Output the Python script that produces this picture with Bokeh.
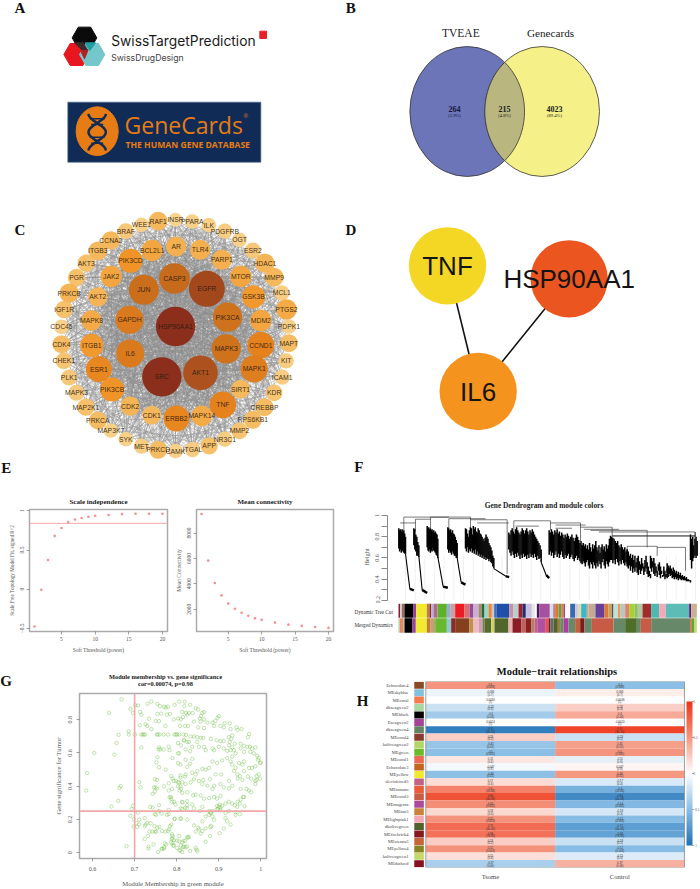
import numpy as np
from bokeh.plotting import figure
from bokeh.layouts import column, row
from bokeh.embed import file_html
from bokeh.resources import INLINE
from bokeh.core.properties import value
from bokeh.transform import dodge
from bokeh.models import (FixedTicker, LinearColorMapper, ColorBar, FactorRange,
                          ColumnDataSource, Range1d)

SERIF = "Liberation Serif"
SANS = "Liberation Sans"

# ---------------- B: Venn ----------------
venn_names = ["TVEAE", "Genecards"]
venn_counts = ["264", "215", "4023"]
venn_pcts = ["(5.9%)", "(4.8%)", "(89.4%)"]

# ---------------- C: PPI network ----------------
net_labels = ["HSP90AA1","SRC","AKT1","EGFR","CASP3","JUN","PIK3CA","MAPK3","GAPDH","IL6",
 "MAPK1","CCND1","TNF","ERBB2","ESR1","PIK3CB","PIK3CD","ITGB1","GSK3B","MTOR","MDM2","MAPK8","JAK2","AKT2",
 "BCL2L1","AR","TLR4","PARP1","SIRT1","MAPK14","CDK1","CDK2",
 "RAF1","INSR","PPARA","ILK","PDGFRB","OGT","ESR2","HDAC1","MMP9","MCL1","PTGS2","PDPK1","MAPT","KIT","ICAM1","KDR",
 "CREBBP","RPS6KB1","MMP2","NR3C1","APP","ITGAL","CAMK","PRKCD","MET","SYK","MAP3K7","PRKCA","MAP2K1","MAPK3","PLK1",
 "CHEK1","CDK4","CDC45","IGF1R","PRKCB","PGR","AKT3","ITGB3","CCNA2","BRAF","WEE1"]
net_x = [525,484,600,619,522,430,681,677,387,389,
 761,781,667,528,295,335,390,274,759,721,781,273,332,292,
 455,527,599,664,720,604,454,389,
 473,525,575,625,673,717,757,793,821,844,858,865,865,857,845,821,
 792,757,717,673,626,576,525,473,423,376,331,292,256,228,206,
 190,183,183,191,206,228,257,292,331,376,423]
net_y = [378,529,517,265,234,268,350,445,358,459,
 505,434,613,654,506,567,181,435,289,228,360,360,228,289,
 150,138,148,178,566,646,644,617,
 62,58,63,74,92,118,150,188,230,277,327,378,428,481,530,577,
 620,658,691,716,736,747,752,748,737,716,690,660,620,577,531,
 481,431,379,327,278,231,188,151,120,92,73]
net_size = [118,118,104,108,92,90,88,88,84,84,
 82,80,80,78,78,72,72,70,70,64,64,62,64,58,
 64,60,60,60,56,62,56,58,
 56,42,44,44,46,44,48,58,56,46,62,44,54,46,46,50,
 54,54,50,46,52,46,44,54,46,44,44,54,52,48,48,
 50,54,44,52,58,52,52,56,56,48,44]

# ---------------- D: hub genes ----------------
hub_labels = ["TNF", "HSP90AA1", "IL6"]
hub_colors = ["#f4d624", "#ea5520", "#f4941f"]

# ---------------- E: soft threshold ----------------
powers = [1,2,3,4,5,6,7,8,9,10,12,14,16,18,20]
sft_r2 = [-0.477,-0.008,0.372,0.68,0.78,0.858,0.89,0.908,0.925,0.937,0.946,0.958,0.962,0.962,0.962]
mean_k = [9500,5830,4070,3090,2440,2030,1715,1480,1275,1170,940,780,680,600,525]
r2_cut = 0.84

# ---------------- F: dendrogram (leaf order 0-895, merge height) ----------------
clusters = [
 (0,20,[.88,.86,.87,.85,.87,.84,.86,.83,.80],[.69,.66,.68,.65,.67,.66,.65,.64,.64]),
 (45,60,[.88,.87,.82,.80,.75,.72],[.72,.68,.66,.62,.62,.61]),
 (85,117,[.90,.88,.89,.87,.88,.86,.87,.85,.86,.84,.85,.83,.82,.78],[.70,.67,.66,.68,.65,.67,.66,.70,.67,.66,.65,.63,.62,.60]),
 (147,175,[.89,.88,.86,.87,.84,.86,.83,.82,.80,.77,.74],[.68,.65,.67,.65,.63,.66,.64,.62,.62,.60,.60]),
 (200,285,[.88,.87,.83,.80,.86,.89,.88,.82,.90,.87,.89,.85,.84,.88,.86,.83,.82,.80,.78,.76,.79,.82,.80,.78,.74,.72,.70,.67,.62,.60],
  [.69,.66,.70,.65,.68,.66,.69,.65,.67,.64,.68,.63,.66,.62,.64,.61,.63,.60,.62,.59,.61,.58,.60,.59,.57,.59,.56,.55,.52,.50]),
 (330,427,[.84,.82,.86,.88,.85,.83,.87,.89,.86,.84,.82,.85,.88,.86,.83,.86,.88,.85,.82,.86,.84,.87,.85,.82,.80,.78,.76,.74,.72,.68],
  [.68,.65,.62,.66,.63,.60,.64,.61,.65,.62,.59,.63,.60,.64,.61,.62,.59,.63,.60,.64,.61,.63,.60,.64,.61,.58,.62,.59,.60,.56]),
 (451,550,[.86,.84,.87,.85,.82,.86,.84,.87,.83,.85,.81,.84,.82,.79,.82,.80,.83,.81,.78,.80,.82,.79,.76,.79,.82,.80,.77,.74,.76,.72],
  [.63,.66,.62,.65,.60,.63,.66,.61,.64,.60,.63,.66,.61,.59,.63,.60,.62,.64,.59,.61,.63,.59,.57,.60,.62,.58,.60,.57,.55,.54]),
 (550,635,[.72,.74,.71,.73,.69,.72,.68,.74,.70,.66,.73,.69,.72,.76,.70,.67,.72,.65,.70,.73,.68,.71,.66,.73,.69,.72,.78,.75],
  [.60,.57,.55,.52,.56,.58,.53,.50,.56,.54,.50,.56,.53,.50,.55,.52,.57,.54,.50,.56,.59,.53,.50,.57,.54,.52,.56,.58]),
 (635,685,[.81,.80,.79,.78,.76,.74,.76,.72,.70,.73,.70,.68,.70,.66,.68],[.60,.58,.55,.58,.54,.59,.56,.53,.57,.54,.58,.55,.53,.56,.52]),
 (685,755,[.68,.66,.62,.64,.60,.63,.58,.62,.56,.60,.62,.57,.54,.60,.55,.52,.58,.62,.56,.52,.48,.45],
  [.54,.50,.53,.48,.52,.46,.50,.47,.51,.46,.44,.49,.45,.48,.50,.44,.47,.50,.45,.42,.43,.41]),
 (755,805,[.62,.60,.57,.60,.55,.52,.48,.54,.56,.52,.48,.44,.52,.48,.45,.50],[.50,.47,.51,.45,.43,.46,.42,.48,.44,.41,.45,.42,.43,.40,.42,.41]),
 (805,875,[.55,.53,.51,.53,.50,.48,.51,.49,.46,.48,.45,.47,.44,.46,.43,.44,.42,.43,.41,.42,.40,.40,.39,.39],
  [.46,.42,.45,.43,.44,.41,.42,.40,.42,.40,.41,.39,.41,.40,.39,.40,.39,.39,.39,.38,.38,.38,.38,.37]),
 (875,895,[.82,.78,.80,.72,.78,.80,.76],[.58,.50,.57,.60,.62,.60,.62]),
]
tails = [(20,.64,33,.31,45,.295),(60,.62,70,.30,85,.27),(117,.61,133,.33,147,.32),
         (175,.60,187,.37,200,.35),(285,.50,320,.43,331,.42),(427,.56,442,.44,451,.41)]
links = [(15,215,.985),(215,325,.96),(4,50,.93),(50,95,.965),(95,150,.985),(150,260,.97),(235,330,.93),(345,455,.95),
         (455,545,.93),(470,560,.91),(545,640,.89),(575,745,.86),(555,660,.87),(600,888,.845),(640,890,.81),(640,890,.805),
         (685,775,.71),(775,860,.70),(350,420,.90),(470,520,.88)]
drops = [(15,.86,.985),(50,.85,.965),(95,.88,.985),(150,.87,.97),(215,.88,.985),(325,.45,.96),(345,.84,.95),
         (455,.86,.95),(545,.76,.93),(640,.80,.89),(745,.70,.86),(888,.70,.845),(775,.62,.71),(860,.48,.70),(685,.66,.71),(890,.80,.845)]
dyn_ends = [5,10,18,45,53,85,93,98,105,117,145,155,170,198,213,225,240,250,258,270,280,287,295,332,345,360,372,382,400,410,415,423,454,
            464,470,480,488,495,500,515,530,538,548,565,570,588,592,618,630,640,645,658,665,680,692,708,718,732,758,782,802,872,878,895]
dyn_cols = ["#8b1a3a","#d0d0d0","#9e6a5a","#000000","#9c3b9c","#f0ea30","#c87a3a","#8b2d2d","#b0b0e0","#b56a8a","#5fb02a","#90b0d0","#c8a0a8","#ed1c24","#d87070","#9a4a9a","#c8b0d0","#a88a70","#1b6e38","#a0d0c8","#e08a3a","#d0c0d0","#3a70b0","#1f4fa8","#c890a8","#b8d0c8","#a02030","#1c2f6b","#c8c0e0","#e8e8e8","#ffffff","#4a1a5a","#a850a0",
            "#cfe0ea","#c08090","#d87a30","#60a050","#e08030","#a040a0","#fdfaf0","#3f68b0","#c0c8e0","#e8d8b0","#38b8c8","#e0a080","#c8a890","#888888","#6a3f9a","#e07830","#c8a060","#555555","#c0e0e0","#e8a050","#b8c8c0","#e08070","#a8d030","#8cc060","#b0c8a0","#a02c2c","#50b8b0","#f4a9b8","#5bbdb5","#601a7a","#c8b090"]
mrg_ends = [4,14,18,42,52,85,95,110,145,158,170,212,225,240,252,258,278,288,330,342,368,382,398,408,418,440,
            450,456,465,478,485,495,510,530,545,558,580,645,680,715,727,758,875,880,888,895]
mrg_cols = ["#a8d8a8","#f08060","#90c8a0","#000000","#a040a0","#f0ea30","#c87a3a","#c0a070","#68b830","#90c8d0","#8b2a2a","#85401f","#c09050","#f0b8c0","#d0a0b0","#708050","#556b2a","#d0d070","#50662a","#e8b0b0","#8a1c25","#c06060","#8a2020","#b08060","#c06090","#b050a0",
            "#e05060","#801a20","#607060","#555f30","#a08030","#6a8a60","#a840a0","#68886a","#c06040","#801a1e","#68886a","#c85b46","#68886a","#4f6f28","#68886a","#c85b46","#68886a","#e06040","#50b030","#c8d870"]

# ---------------- G: module membership vs gene significance ----------------
gene_points = [(.669,.923),(.639,.841),(.69,.865),(.696,.841),(.708,.886),(.702,.886),(.662,.709),(.686,.73),(.686,.711),(.657,.66),(.604,.6),(.652,.59),(.587,.479),(.585,.374),(.664,.389),(.667,.401),(.661,.312),(.645,.278),(.696,.282),(.693,.263),(.681,.039),(.701,.711),
(.713,.847),(.716,.831),(.731,.896),(.74,.909),(.754,.896),(.76,.882),(.77,.878),(.774,.874),(.779,.878),(.795,.89),(.806,.909),(.819,.909),(.754,.835),(.763,.837),(.777,.831),(.784,.835),(.813,.847),(.822,.841),(.734,.806),(.75,.792),(.758,.792),(.793,.802),(.803,.808),(.815,.816),(.712,.767),(.726,.773),(.73,.763),(.74,.744),(.773,.763),(.808,.763),(.82,.763),
(.716,.711),(.719,.711),(.722,.711),(.725,.711),(.753,.711),(.755,.711),(.759,.711),(.769,.711),(.779,.711),(.795,.711),(.798,.711),(.801,.711),(.806,.711),(.816,.711),(.822,.709),
(.803,.66),(.716,.633),(.758,.633),(.761,.621),(.769,.621),(.781,.637),(.783,.617),(.757,.621),(.803,.598),(.818,.676),(.825,.666),(.821,.621),(.754,.574),(.752,.543),(.758,.514),(.774,.5),(.803,.539),(.809,.53),(.825,.516),(.748,.442),(.753,.438),(.787,.461),(.79,.446),(.793,.432),(.809,.452),(.82,.458),(.813,.423),(.803,.423),
(.711,.424),(.714,.393),(.746,.393),(.75,.393),(.753,.387),(.748,.368),(.743,.354),(.77,.399),(.781,.417),(.781,.374),(.803,.399),(.809,.399),(.789,.384),(.807,.374),(.813,.36),(.825,.364),(.783,.333),(.787,.325),(.789,.306),(.797,.29),(.809,.267),(.814,.302),(.825,.31),(.758,.286),(.737,.276),(.743,.271),(.781,.257),(.82,.271),
(.69,.222),(.708,.241),(.698,.202),(.711,.199),(.704,.179),(.711,.169),(.698,.158),(.706,.154),(.724,.208),(.751,.228),(.748,.232),(.764,.236),(.777,.228),(.781,.232),(.758,.251),(.795,.204),(.809,.202),(.726,.169),(.73,.179),(.738,.177),(.724,.16),(.747,.16),(.754,.15),(.759,.154),(.765,.13),(.773,.127),(.784,.16),(.787,.169),(.78,.13),(.735,.127),(.742,.127),(.748,.127),(.751,.127),(.732,.101),(.724,.082),(.772,.056),(.775,.049),(.756,.004),(.764,.023),(.77,.025),(.745,.049),(.733,.037),(.733,.025),(.789,.111),(.79,.088),(.787,.062),(.793,.076),(.801,.072),(.806,.101),(.793,.043),(.809,.014),(.801,.029),(.82,.072),(.825,.092),(.813,.062),(.815,.033),(.825,.037),
(.818,.882),(.832,.89),(.845,.87),(.851,.861),(.829,.841),(.838,.841),(.825,.831),(.861,.841),(.865,.847),(.858,.822),(.855,.808),(.865,.802),(.857,.789),(.873,.783),(.885,.783),(.897,.812),(.9,.822),(.892,.792),(.81,.802),(.841,.789),(.827,.763),(.851,.754),(.865,.75),(.889,.763),(.904,.763),(.914,.779),(.926,.779),(.912,.754),(.928,.744),(.942,.754),(.954,.744),(.945,.738),
(.833,.699),(.841,.699),(.849,.695),(.857,.691),(.863,.691),(.895,.676),(.904,.672),(.911,.672),(.817,.676),(.829,.666),(.849,.666),(.881,.685),(.924,.695),(.932,.705),(.93,.685),(.926,.666),(.938,.656),(.952,.656),(.96,.643),(.968,.637),(.974,.637),(.979,.627),(.987,.633),(.969,.695),(.972,.715),
(.81,.646),(.832,.611),(.837,.637),(.853,.637),(.865,.637),(.869,.617),(.885,.627),(.889,.617),(.9,.637),(.912,.627),(.92,.613),(.928,.617),(.936,.617),(.924,.646),(.932,.633),(.952,.627),(.96,.607),(.975,.607),(.983,.598),(.991,.584),(.995,.569),(1.0,.543),(.998,.539),(.993,.559),
(.79,.569),(.806,.598),(.821,.559),(.837,.565),(.832,.535),(.861,.504),(.869,.5),(.877,.51),(.885,.549),(.896,.539),(.908,.555),(.92,.569),(.932,.578),(.94,.598),(.928,.549),(.932,.53),(.948,.539),(.956,.53),(.96,.549),(.972,.51),(.979,.51),(.987,.52),(.995,.471),(.998,.446),(.99,.438),(.99,.461),
(.809,.465),(.821,.471),(.837,.481),(.845,.471),(.849,.491),(.863,.438),(.879,.442),(.892,.471),(.906,.471),(.924,.432),(.936,.491),(.94,.51),(.944,.471),(.95,.461),(.945,.446),(.956,.438),(.96,.491),(.969,.458),(.977,.446),(.987,.413),(.987,.432),
(.798,.432),(.806,.423),(.821,.413),(.81,.384),(.833,.423),(.841,.442),(.853,.432),(.861,.413),(.873,.403),(.885,.384),(.889,.403),(.904,.413),(.912,.393),(.924,.387),(.932,.403),(.952,.384),(.966,.384),(.972,.374),(.977,.364),(.96,.335),
(.786,.335),(.794,.306),(.813,.306),(.825,.286),(.839,.345),(.845,.349),(.857,.345),(.865,.325),(.877,.329),(.889,.335),(.896,.325),(.904,.341),(.916,.296),(.924,.306),(.932,.296),(.938,.286),(.945,.306),(.952,.319),(.958,.335),(.95,.296),(.944,.276),
(.896,.282),(.9,.276),(.904,.271),(.898,.263),(.908,.282),(.902,.29),(.895,.26),(.904,.257),(.813,.263),(.824,.267),(.837,.29),(.841,.267),(.861,.276),(.877,.251),(.881,.243),(.885,.251),(.855,.251),(.924,.251),(.94,.243),(.961,.28),(.95,.232),
(.795,.204),(.81,.208),(.825,.199),(.841,.164),(.851,.15),(.861,.189),(.869,.218),(.877,.228),(.881,.238),(.885,.218),(.889,.199),(.916,.238),(.916,.208),(.92,.189),(.928,.169),(.94,.228),(.882,.16),(.88,.154),(.853,.14),(.845,.127),(.861,.13),(.869,.146),(.879,.101),(.902,.117),(.912,.146),(.869,.066),(.857,.115),(.829,.095),(.827,.092),(.79,.101),(.788,.082),(.79,.056),(.792,.043),(.806,.068),(.816,.072),(.81,.043),(.817,.037),(.821,.033),(.806,.014),(.813,.004),(.832,.01),(.847,.018),(.849,.008),(.845,.029),(.782,.14),(.77,.033),(.766,.023)]
mm_values = [a for a, b in gene_points]
gs_values = [b for a, b in gene_points]
mm_cut = 0.7
gs_cut = 0.25

# ---------------- H: module-trait heatmap ----------------
modules = ["Echocolate4","MEskyblue","MEcoral","dkseagreen2","MEblack","Eseagreen2","dkseagreen4","MEcoral4","koliveogreen2","MEgreen","MEcoral1","Echocolate3","MEyellow","slevioletred3","MEtomato","MEcoral3","MEmagenta","MEtan3","MElightpink1","dkolivegreen","MEfirebrick4","MEsienna3","MEyellow4","koliveogreen1","MEdarkred"]
module_cols = ["#8b4a26","#7fc1df","#f47b4e","#a8d8a0","#000000","#a5429a","#648460","#8b3a2e","#b3d668","#6cbb2c","#ec6a55","#c4641e","#efea2f","#c06384","#ec5a3a","#c95b46","#ab4a9b","#c8833e","#f3a9b5","#4f632a","#841a1e","#c7663a","#878424","#c6d968","#861220"]
tumor_r = [0.50,-0.084,0.0036,-0.23,-0.40,0.0024,-0.91,0.23,-0.45,-0.5,0.11,-0.047,-0.49,0.17,0.60,0.84,0.54,0.18,0.52,0.71,0.68,0.23,0.52,0.15,-0.37]
tumor_p = ["(0.008)","(0.7)","(1)","(0.3)","(0.04)","(1)","(3e-10)","(0.2)","(0.01)","(0.005)","(0.6)","(0.8)","(0.01)","(0.4)","(2e-04)","(4e-08)","(0.002)","(0.3)","(0.003)","(4e-05)","(7e-05)","(0.2)","(0.003)","(0.4)","(0.06)"]
traits = ["Tsome", "Control"]

# ---------------- helpers ----------------
def canvas(w, h, xr, yr):
    p = figure(width=w, height=h, x_range=Range1d(*xr), y_range=Range1d(*yr), output_backend="svg",
               toolbar_location=None, x_axis_location=None, y_axis_location=None, min_border=0)
    p.outline_line_color = None
    p.grid.visible = False
    return p

def txt(p, x, y, s, size, font=SERIF, color="#111111", style="normal", align="center", alpha=1.0):
    p.text(x=[x], y=[y], text=[s], text_font=value(font), text_font_size=size, text_font_style=style,
           text_align=align, text_baseline="middle", text_color=color, text_alpha=alpha)

def interp_color(v, stops, cols):
    rgb = np.array([[int(c[i:i+2], 16) for i in (1, 3, 5)] for c in cols], dtype=float)
    return "#%02x%02x%02x" % tuple(int(round(np.interp(v, stops, rgb[:, k]))) for k in range(3))

def r_axes(p, size="5.5px", color="#555555", lab_size="5.5px"):
    p.grid.visible = False
    p.outline_line_color = "#aaaaaa"
    p.outline_line_width = 1.5
    for ax in (p.xaxis[0], p.yaxis[0]):
        ax.axis_line_color = None
        ax.major_tick_line_color = "#777777"
        ax.major_tick_line_width = 0.7
        ax.major_tick_in = 0
        ax.major_tick_out = 3
        ax.minor_tick_line_color = None
        ax.major_label_text_font = SERIF
        ax.major_label_text_font_size = size
        ax.major_label_text_color = color
        ax.axis_label_text_font = SERIF
        ax.axis_label_text_font_size = lab_size
        ax.axis_label_text_font_style = "normal"
        ax.axis_label_text_color = color
        ax.major_label_standoff = 2
        ax.axis_label_standoff = 3
    p.yaxis[0].major_label_orientation = "vertical"

# ---------------- A ----------------
pa = canvas(340, 195, (0, 1020), (585, 0))
txt(pa, 58, 22, "A", "15px", style="bold")
def hexagon(cx, cy, r):
    a = np.deg2rad(np.arange(0, 360, 60))
    return list(cx + r * np.cos(a)), list(cy + r * np.sin(a))
hx, hy = hexagon(252, 112, 37)
pa.patch(hx, hy, color="#0b0b0b")
hx, hy = hexagon(228, 162, 38)
pa.patch(hx, hy, color="#e8161f")
hx, hy = hexagon(275, 162, 38)
pa.patch(hx, hy, color="#74c8cb")
pa.patch([222, 248, 262, 246], [127, 127, 150, 150], color="#3a2a2a")
pa.patch([254, 285, 268], [127, 127, 150], color="#1f9da0")
pa.patch([240, 262, 252], [150, 150, 175], color="#b52024")
txt(pa, 332, 122, "SwissTargetPrediction", "13.8px", font="Inter", align="left", color="#1a1a1a")
txt(pa, 332, 172, "SwissDrugDesign", "8.7px", font="Inter", align="left", color="#444444")
pa.rect(x=[788], y=[103], width=20, height=22, color="#e8202a")
pa.rect(x=[491.5], y=[395], width=579, height=180, fill_color="#102b56", line_color="#4a6a90", line_width=0.7)
pa.ellipse(x=[290], y=[392], width=126, height=146, color="#e67c13")
t = np.linspace(0, 1, 40)
for sgn in (-1, 1):
    pa.line(290 + sgn * 26 * np.cos(t * 2 * np.pi), 340 + t * 110, line_color="#102b56", line_width=2.5)
pa.segment(x0=[268, 272, 268, 272], y0=[355, 372, 410, 428], x1=[312, 308, 312, 308], y1=[355, 372, 410, 428],
           line_color="#102b56", line_width=1.5)
txt(pa, 372, 373, "GeneCards", "23px", font="Open Sans", align="left", color="#e67c13")
txt(pa, 736, 347, "®", "6px", font=SANS, color="#e67c13")
txt(pa, 375, 433, "THE HUMAN GENE DATABASE", "8.6px", font="Open Sans", align="left", color="#e67c13", style="bold")

# ---------------- B ----------------
pb = canvas(360, 195, (-30, 1050), (585, 0))
txt(pb, 1, 22, "B", "15px", style="bold")
pb.ellipse(x=[350, 575], y=[333, 333], width=344, height=390, fill_color=["#6c75b8", "#f5f088"],
           line_color="#333333", line_width=0.8)
dy = np.linspace(-147.5, 147.5, 60)
root = np.sqrt(1 - (dy / 195) ** 2)
pb.patch(list(350 + 172 * root) + list((575 - 172 * root)[::-1]), list(333 + dy) + list((333 + dy)[::-1]),
         fill_color="#b9b680", line_color="#333333", line_width=0.8)
txt(pb, 331, 98, venn_names[0], "11.5px", color="#222222")
txt(pb, 600, 98, venn_names[1], "11.2px", color="#222222")
for vx, n, pct, c in zip((312, 462, 612), venn_counts, venn_pcts, ("#14143c", "#1a1a1a", "#1a1a1a")):
    txt(pb, vx, 325, n, "8px", color=c, style="bold")
    txt(pb, vx, 344, pct, "4.6px", color=c)

# ---------------- C ----------------
pc = canvas(340, 280, (0, 1020), (825, -15))
txt(pc, 58, 88, "C", "15px", style="bold")
txt(pc, 17, 801, "E", "15px", style="bold")
n_nodes = len(net_labels)
x0s, y0s, x1s, y1s = [], [], [], []
for i in range(n_nodes):
    for j in range(i + 1, n_nodes):
        if i < 10 or (i < 32 and (i + j) % 3 == 0) or (j - i) % 7 == 0:
            x0s.append(net_x[i]); y0s.append(net_y[i]); x1s.append(net_x[j]); y1s.append(net_y[j])
pc.segment(x0=x0s, y0=y0s, x1=x1s, y1=y1s, line_color="#8f8f8f", line_width=0.55, line_alpha=0.75)
size_stops = [42, 56, 64, 72, 80, 88, 104, 118]
size_cols = ["#f9d48f", "#f6b85d", "#f3a63f", "#f09428", "#e5821e", "#ce721c", "#ad521e", "#8b2f1c"]
order = np.argsort(net_size)
pc.circle(x=[net_x[i] for i in order], y=[net_y[i] for i in order], radius=[net_size[i] / 2 for i in order],
          fill_color=[interp_color(net_size[i], size_stops, size_cols) for i in order], line_color=None)
pc.text(x=net_x, y=net_y, text=net_labels, text_font=value(SANS), text_font_size="6.8px", text_align="center",
        text_baseline="middle", text_color="#2a1a10", text_alpha=0.9)

# ---------------- D ----------------
pd_ = canvas(360, 280, (-30, 1050), (795, -45))
txt(pd_, 1, 58, "D", "15px", style="bold")
txt(pd_, 25, 770, "F", "15px", style="bold")
hub_x = [291, 656, 383]
hub_y = [166, 205, 543]
pd_.segment(x0=[hub_x[0], hub_x[1]], y0=[hub_y[0], hub_y[1]], x1=[hub_x[2], hub_x[2]], y1=[hub_y[2], hub_y[2]],
            line_color="#111111", line_width=1.6)
pd_.circle(x=hub_x, y=hub_y, radius=116, fill_color=hub_colors, line_color=None)
pd_.text(x=hub_x, y=hub_y, text=hub_labels, text_font=value(SANS), text_font_size="26px", text_align="center",
         text_baseline="middle", text_color="#141414")

# ---------------- E ----------------
def sft_fig(w, left, right, yr, yticks, ylab, yvals, title):
    f = figure(width=w, height=180, x_range=(0.25, 20.75), y_range=yr, output_backend="svg", toolbar_location=None,
               min_border_left=left, min_border_right=right, min_border_top=34, min_border_bottom=22,
               title=title, x_axis_label="Soft Threshold (power)", y_axis_label=ylab)
    r_axes(f)
    f.title.text_font = SERIF
    f.title.text_font_size = "7px"
    f.title.text_font_style = "bold"
    f.title.align = "center"
    f.title.text_color = "#222222"
    f.title.standoff = 7
    f.xaxis[0].ticker = FixedTicker(ticks=[5, 10, 15, 20])
    f.yaxis[0].ticker = FixedTicker(ticks=yticks)
    f.scatter(powers, yvals, marker="circle", size=2.6, fill_color="#f26a6a", line_color=None, fill_alpha=0.75)
    return f
pe1 = sft_fig(172, 29, 5, (-0.54, 1.017), [-0.5, 0, 0.5, 1], "Scale Free Topology Model Fit, signed R^2", sft_r2, "Scale independence")
pe1.yaxis[0].axis_label_text_font_size = "5.2px"
pe1.line([0.25, 20.75], [r2_cut, r2_cut], line_color="#f5a9a9", line_width=1)
pe2 = sft_fig(173, 23, 12, (240, 9860), [2000, 4000, 6000, 8000], "Mean Connectivity", mean_k, "Mean connectivity")

# ---------------- F: dendrogram above, module strips below ----------------
LEAF_RANGE = (-34, 905)
pf = figure(width=355, height=128, x_range=LEAF_RANGE, y_range=(0.2, 1.0188), output_backend="svg",
            toolbar_location=None, x_axis_location=None, min_border_left=42, min_border_right=0, min_border_top=38,
            min_border_bottom=3, title="Gene Dendrogram and module colors", y_axis_label="Height")
pf.grid.visible = False
pf.outline_line_color = None
pf.title.text_font = SERIF
pf.title.text_font_size = "7.4px"
pf.title.text_font_style = "bold"
pf.title.align = "center"
pf.title.text_color = "#222222"
pf.title.standoff = 7
ya = pf.yaxis[0]
ya.bounds = (0.2, 1.0)
ya.ticker = FixedTicker(ticks=[0.2, 0.4, 0.6, 0.8, 1.0], minor_ticks=[0.3, 0.5, 0.7, 0.9])
ya.major_label_orientation = "vertical"
ya.major_label_text_font = SERIF
ya.major_label_text_font_size = "6px"
ya.major_label_text_color = "#555555"
ya.major_tick_in = 0
ya.major_tick_out = 6
ya.minor_tick_in = 0
ya.minor_tick_out = 6
ya.minor_tick_line_color = "#888888"
ya.major_tick_line_color = "#888888"
ya.axis_line_color = "#888888"
ya.axis_label_text_font = SERIF
ya.axis_label_text_font_style = "normal"
ya.axis_label_text_font_size = "6.5px"
ya.axis_label_text_color = "#555555"
ya.major_label_standoff = 2
ya.axis_label_standoff = 3
guide = np.arange(20, 895, 29)
pf.segment(x0=guide, y0=[0.2] * len(guide), x1=guide, y1=[0.62] * len(guide), line_color="#e6e6e6", line_width=0.6)
lx, lt, lb = [], [], []
for a, b, tops, bots in clusters:
    lx += list(np.linspace(a, b, len(tops)))
    lt += tops
    lb += bots
pf.segment(x0=lx, y0=lb, x1=lx, y1=lt, line_color="#000000", line_width=1.5)
for x0, h0, x1, h1, x2, h2 in tails:
    pf.line([x0, x1], [h0, h1], line_color="#000000", line_width=1.1)
    pf.line([x1, x2], [h1, h2], line_color="#000000", line_width=2.4)
pf.segment(x0=[l[0] for l in links], y0=[l[2] for l in links], x1=[l[1] for l in links], y1=[l[2] for l in links],
           line_color="#222222", line_width=0.6)
pf.segment(x0=[d[0] for d in drops], y0=[d[1] for d in drops], x1=[d[0] for d in drops], y1=[d[2] for d in drops],
           line_color="#222222", line_width=0.6)

# strip panel: page y 603-655, x 345-700; leaf 0 is page x 398
ps = canvas(355, 52, (-159, 906), (-0.3176, 0.1718))
dstart = [0] + dyn_ends[:-1]
ps.quad(left=dstart, right=dyn_ends, bottom=[0.0372] * len(dyn_ends), top=[0.1718] * len(dyn_ends),
        fill_color=dyn_cols, line_color=None)
mstart = [0] + mrg_ends[:-1]
ps.quad(left=mstart, right=mrg_ends, bottom=[-0.104] * len(mrg_ends), top=[0.0334] * len(mrg_ends),
        fill_color=mrg_cols, line_color=None)
txt(ps, -132, 0.096, "Dynamic Tree Cut", "5.2px", color="#333333", align="left")
txt(ps, -132, -0.035, "Merged Dynamics", "5.2px", color="#333333", align="left")

# ---------------- G ----------------
gh = canvas(345, 37, (0, 1035), (111, 0))
txt(gh, 17, 75, "G", "15px", style="bold")
txt(gh, 495, 62, "Module membership vs. gene significance", "6.4px", color="#222222", style="bold")
txt(gh, 495, 83, "cor=0.00074, p=0.98", "6.4px", color="#222222", style="bold")
pg = figure(width=345, height=197, x_range=(0.569, 1.0134), y_range=(-0.035, 0.958), output_backend="svg",
            toolbar_location=None, min_border_left=79, min_border_right=79, min_border_top=1, min_border_bottom=27,
            x_axis_label="Module Membership in green module", y_axis_label="Gene significance for Tumor")
r_axes(pg, size="6px", lab_size="6.7px")
pg.xaxis[0].ticker = FixedTicker(ticks=[0.6, 0.7, 0.8, 0.9, 1.0])
pg.yaxis[0].ticker = FixedTicker(ticks=[0, 0.2, 0.4, 0.6, 0.8])
pg.xaxis[0].major_label_standoff = 5
pg.yaxis[0].major_label_standoff = 4
pg.xaxis[0].axis_label_standoff = 6
pg.yaxis[0].axis_label_standoff = 4
pg.scatter(mm_values, gs_values, marker="circle", size=3.4, fill_color=None, line_color="#6fbf45", line_width=0.7, line_alpha=0.6)
pg.line([mm_cut, mm_cut], [-0.035, 0.958], line_color="#f4a6a6", line_width=1.6)
pg.line([0.569, 1.0134], [gs_cut, gs_cut], line_color="#f4a6a6", line_width=1.6)

# ---------------- H ----------------
hl = canvas(30, 234, (0, 90), (702, 0))
txt(hl, 51, 75, "H", "15px", style="bold")
stops = [-1, -0.5, 0, 0.5, 1]
stop_cols = ["#1f72b8", "#8cbfe6", "#ffffff", "#f59680", "#ee3314"]
palette = [interp_color(v, stops, stop_cols) for v in np.linspace(-1, 1, 256)]
mapper = LinearColorMapper(palette=palette, low=-1, high=1)
ph = figure(width=325, height=234, x_range=(-0.095, 2.124), y_range=FactorRange(factors=modules[::-1]), output_backend="svg",
            toolbar_location=None, min_border_left=38, min_border_right=0, min_border_top=26, min_border_bottom=22,
            title="Module\u2212trait relationships")
ph.grid.visible = False
ph.outline_line_color = None
ph.title.text_font = SERIF
ph.title.text_font_size = "10.5px"
ph.title.text_font_style = "bold"
ph.title.align = "center"
ph.title.text_color = "#111111"
ph.title.standoff = 10
ya = ph.yaxis[0]
ya.axis_line_color = None
ya.major_tick_line_color = None
ya.major_tick_out = 0
ya.major_label_text_font = SERIF
ya.major_label_text_font_size = "4.5px"
ya.major_label_text_color = "#444444"
ya.major_label_standoff = 5
xa = ph.xaxis[0]
xa.axis_line_color = None
xa.major_tick_line_color = None
xa.minor_tick_line_color = None
xa.major_tick_out = 0
xa.ticker = FixedTicker(ticks=[0.5, 1.5])
xa.major_label_overrides = {0.5: traits[0], 1.5: traits[1]}
xa.major_label_text_font = SERIF
xa.major_label_text_font_size = "6.5px"
xa.major_label_text_color = "#444444"
xa.major_label_standoff = 5
def fmt(v):
    return ("%g" % v)
cells = ColumnDataSource(dict(
    x=[0.5] * 25 + [1.5] * 25,
    y=modules + modules,
    v=tumor_r + [-v for v in tumor_r],
    r=[fmt(v) for v in tumor_r] + [fmt(-v) for v in tumor_r],
    q=tumor_p + tumor_p,
))
ph.rect(x="x", y="y", width=1, height=1, source=cells, fill_color={"field": "v", "transform": mapper}, line_color=None)
ph.rect(x=[-0.052] * 25, y=modules, width=0.074, height=0.94, fill_color=module_cols, line_color=None)
ph.text(x="x", y=dodge("y", 0.2, range=ph.y_range), text="r", source=cells, text_font=value(SANS), text_font_size="2.8px",
        text_align="center", text_baseline="middle", text_color="#333333")
ph.text(x="x", y=dodge("y", -0.2, range=ph.y_range), text="q", source=cells, text_font=value(SANS), text_font_size="2.8px",
        text_align="center", text_baseline="middle", text_color="#333333")
ph.rect(x=[1.0], y=[modules[12]], width=2, height=25, fill_color=None, line_color="#888888", line_width=0.8)
cb = ColorBar(color_mapper=mapper, location=(273, 22), width=6, height=144, padding=0, margin=0,
              background_fill_color=None, border_line_color=None, ticker=FixedTicker(ticks=[-1, -0.5, 0, 0.5, 1]),
              major_label_text_font=SERIF, major_label_text_font_size="3.2px", major_label_text_color="#444444",
              label_standoff=0, major_tick_line_color="#666666", major_tick_out=1, major_tick_in=0, bar_line_color=None)
ph.add_layout(cb)

page = column(row(pa, pb), row(pc, pd_),
              row(pe1, pe2, column(row(pf), row(ps))),
              row(column(row(gh), row(pg)), hl, ph))
open("out.html", "w").write(file_html(page, INLINE))
